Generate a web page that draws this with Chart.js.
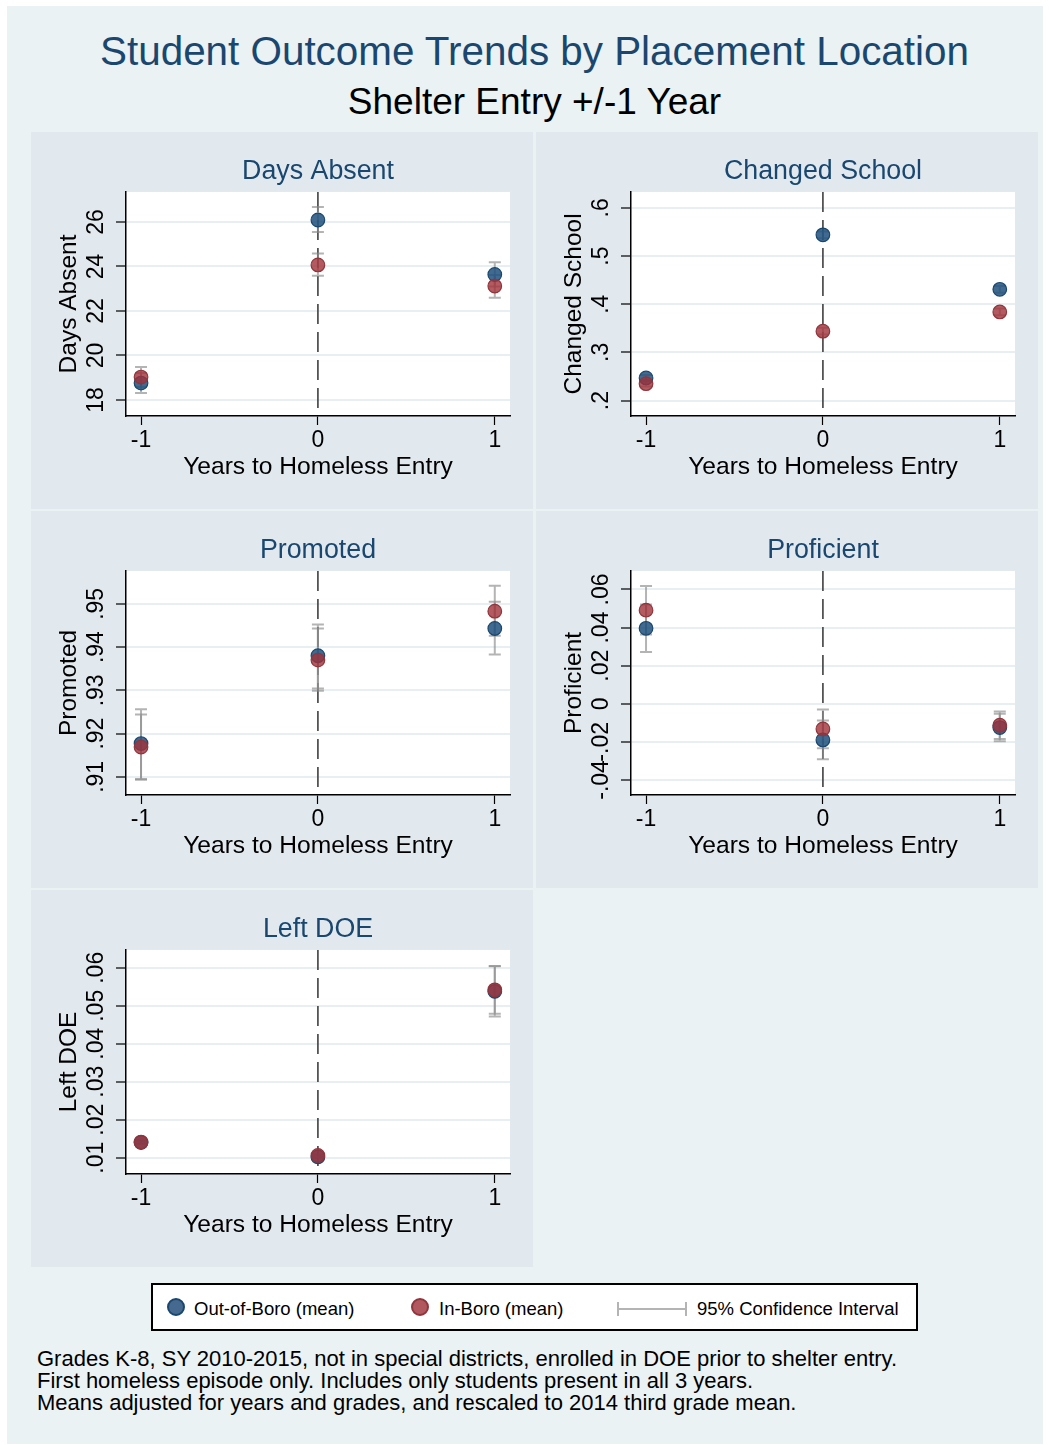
<!DOCTYPE html>
<html>
<head>
<meta charset="utf-8">
<title>Student Outcome Trends by Placement Location</title>
<script src="https://cdn.jsdelivr.net/npm/chart.js@4.4.0/dist/chart.umd.min.js"></script>
<style>
  body { margin: 0; width: 1049px; height: 1445px; background: #fff; position: relative; overflow: hidden;
         font-family: "Liberation Sans", Arial, Helvetica, sans-serif; }
  #bg { position: absolute; left: 7px; top: 6px; width: 1036px; height: 1438px; background: #eaf2f3; }
  .txt { position: absolute; white-space: nowrap; line-height: 1; }
  canvas.panel { position: absolute; background: #e1e9ef; }
  #legend { position: absolute; left: 151px; top: 1283px; width: 763px; height: 44px; background: #fff; border: 2px solid #000; }
  .dot { position: absolute; width: 14px; height: 14px; border-radius: 50%; border: 2px solid; }
  #footnote { position: absolute; left: 37px; top: 1348px; font-size: 22px; line-height: 22px; color: #000; white-space: nowrap; }
</style>
</head>
<body>
<div id="bg"></div>
<div class="txt" style="left:10px; width:1049px; text-align:center; top:30.5px; font-size:40.4px; color:#1a476f;">Student Outcome Trends by Placement Location</div>
<div class="txt" style="left:10px; width:1049px; text-align:center; top:83px; font-size:37px; color:#000;">Shelter Entry +/-1 Year</div>

<canvas id="c1" class="panel" width="502" height="377" style="left:31px; top:132px;"></canvas>
<canvas id="c2" class="panel" width="502" height="377" style="left:536px; top:132px;"></canvas>
<canvas id="c3" class="panel" width="502" height="377" style="left:31px; top:511px;"></canvas>
<canvas id="c4" class="panel" width="502" height="377" style="left:536px; top:511px;"></canvas>
<canvas id="c5" class="panel" width="502" height="377" style="left:31px; top:890px;"></canvas>

<div id="legend">
  <div class="dot" style="left:14px; top:13px; background:#46698f; border-color:#1a476f;"></div>
  <div class="txt" style="left:41px; top:15px; font-size:18.5px;">Out-of-Boro (mean)</div>
  <div class="dot" style="left:258px; top:13px; background:#b1575e; border-color:#90353b;"></div>
  <div class="txt" style="left:286px; top:15px; font-size:18.5px;">In-Boro (mean)</div>
  <div style="position:absolute; left:464px; top:23px; width:70px; height:2px; background:#b4b4b4;"></div>
  <div style="position:absolute; left:464px; top:17px; width:2px; height:14px; background:#b4b4b4;"></div>
  <div style="position:absolute; left:532px; top:17px; width:2px; height:14px; background:#b4b4b4;"></div>
  <div class="txt" style="left:544px; top:15px; font-size:18.5px;">95% Confidence Interval</div>
</div>

<div id="footnote">Grades K-8, SY 2010-2015, not in special districts, enrolled in DOE prior to shelter entry.<br>First homeless episode only. Includes only students present in all 3 years.<br>Means adjusted for years and grades, and rescaled to 2014 third grade mean.</div>

<script>
// x categories: years relative to shelter entry
const years = [-1, 0, 1];
const yearLabels = ['-1', '0', '1'];
const entryYear = 0;

// Days Absent
const daysOut = [18.76, 26.09, 23.64];
const daysOutLo = [18.31, 25.55, 23.10];
const daysOutHi = [19.21, 26.67, 24.19];
const daysIn = [19.03, 24.07, 23.12];
const daysInLo = [18.58, 23.58, 22.60];
const daysInHi = [19.48, 24.58, 23.62];
const daysTicks = [18, 20, 22, 24, 26];
const daysTickLabels = ['18', '20', '22', '24', '26'];

// Changed School
const changedOut = [0.247, 0.544, 0.431];
const changedOutLo = [0.241, 0.537, 0.424];
const changedOutHi = [0.253, 0.551, 0.438];
const changedIn = [0.235, 0.344, 0.384];
const changedInLo = [0.229, 0.337, 0.377];
const changedInHi = [0.241, 0.351, 0.391];
const changedTicks = [0.2, 0.3, 0.4, 0.5, 0.6];
const changedTickLabels = ['.2', '.3', '.4', '.5', '.6'];

// Promoted
const promotedOut = [0.9177, 0.9380, 0.9443];
const promotedOutLo = [0.9095, 0.9304, 0.9383];
const promotedOutHi = [0.9256, 0.9452, 0.9505];
const promotedIn = [0.9169, 0.9370, 0.9483];
const promotedInLo = [0.9093, 0.9299, 0.9426];
const promotedInHi = [0.9244, 0.9443, 0.9542];
const promotedTicks = [0.91, 0.92, 0.93, 0.94, 0.95];
const promotedTickLabels = ['.91', '.92', '.93', '.94', '.95'];

// Proficient
const proficientOut = [0.0396, -0.0190, -0.0125];
const proficientOutLo = [0.0271, -0.0292, -0.0197];
const proficientOutHi = [0.0521, -0.0088, -0.0053];
const proficientIn = [0.0491, -0.0132, -0.0113];
const proficientInLo = [0.0364, -0.0234, -0.0185];
const proficientInHi = [0.0618, -0.0030, -0.0041];
const proficientTicks = [-0.04, -0.02, 0, 0.02, 0.04, 0.06];
const proficientTickLabels = ['-.04', '-.02', '0', '.02', '.04', '.06'];

// Left DOE
const leftOut = [0.0140, 0.0102, 0.0538];
const leftOutLo = [0.0136, 0.0099, 0.0472];
const leftOutHi = [0.0144, 0.0105, 0.0604];
const leftIn = [0.0141, 0.0106, 0.0542];
const leftInLo = [0.0137, 0.0103, 0.0479];
const leftInHi = [0.0145, 0.0109, 0.0605];
const leftTicks = [0.01, 0.02, 0.03, 0.04, 0.05, 0.06];
const leftTickLabels = ['.01', '.02', '.03', '.04', '.05', '.06'];

const panels = [
  { id: 'c1', title: 'Days Absent', out: daysOut, outLo: daysOutLo, outHi: daysOutHi,
    inb: daysIn, inLo: daysInLo, inHi: daysInHi, min: 17.28, max: 27.35, ticks: daysTicks, labels: daysTickLabels },
  { id: 'c2', title: 'Changed School', out: changedOut, outLo: changedOutLo, outHi: changedOutHi,
    inb: changedIn, inLo: changedInLo, inHi: changedInHi, min: 0.168, max: 0.633, ticks: changedTicks, labels: changedTickLabels },
  { id: 'c3', title: 'Promoted', out: promotedOut, outLo: promotedOutLo, outHi: promotedOutHi,
    inb: promotedIn, inLo: promotedInLo, inHi: promotedInHi, min: 0.9058, max: 0.9576, ticks: promotedTicks, labels: promotedTickLabels },
  { id: 'c4', title: 'Proficient', out: proficientOut, outLo: proficientOutLo, outHi: proficientOutHi,
    inb: proficientIn, inLo: proficientInLo, inHi: proficientInHi, min: -0.0479, max: 0.0697, ticks: proficientTicks, labels: proficientTickLabels },
  { id: 'c5', title: 'Left DOE', out: leftOut, outLo: leftOutLo, outHi: leftOutHi,
    inb: leftIn, inLo: leftInLo, inHi: leftInHi, min: 0.0057, max: 0.0647, ticks: leftTicks, labels: leftTickLabels }
];

const FONT = '"Liberation Sans", Arial, Helvetica, sans-serif';
Chart.defaults.font.family = FONT;

// tick labels are rotated, so centre them by hand on the label strip
const measure = document.createElement('canvas').getContext('2d');
measure.font = '23px ' + FONT;
function yTickPad(labels) {
  const widest = Math.max(...labels.map(s => measure.measureText(s).width));
  return 19 - widest / 2;
}

// white plot region, dashed line at shelter entry, and the 95% CI caps
function decor(p) {
  return {
    id: 'decor',
    beforeDraw(chart) {
      const a = chart.chartArea, ctx = chart.ctx;
      ctx.save();
      ctx.fillStyle = '#fff';
      ctx.fillRect(a.left, a.top, a.right - a.left, a.bottom - a.top);
      ctx.restore();
    },
    beforeDatasetsDraw(chart) {
      const { ctx, chartArea: a, scales: { x, y } } = chart;
      ctx.save();
      const x0 = x.getPixelForValue(entryYear);
      ctx.strokeStyle = '#404040';
      ctx.lineWidth = 1.6;
      ctx.setLineDash([20, 8]);
      ctx.beginPath();
      ctx.moveTo(x0, a.top);
      ctx.lineTo(x0, a.bottom);
      ctx.stroke();
      ctx.setLineDash([]);

      ctx.strokeStyle = 'rgba(140,140,140,0.65)';
      ctx.lineWidth = 2;
      [[p.outLo, p.outHi], [p.inLo, p.inHi]].forEach(([lo, hi]) => {
        years.forEach((yr, i) => {
          const px = x.getPixelForValue(yr);
          const y1 = y.getPixelForValue(lo[i]);
          const y2 = y.getPixelForValue(hi[i]);
          ctx.beginPath();
          ctx.moveTo(px, y1); ctx.lineTo(px, y2);
          ctx.moveTo(px - 6, y1); ctx.lineTo(px + 6, y1);
          ctx.moveTo(px - 6, y2); ctx.lineTo(px + 6, y2);
          ctx.stroke();
        });
      });
      ctx.restore();
    }
  };
}

panels.forEach(p => {
  new Chart(document.getElementById(p.id), {
    type: 'scatter',
    data: {
      datasets: [
        {
          label: 'Out-of-Boro (mean)',
          data: years.map((yr, i) => ({ x: yr, y: p.out[i] })),
          backgroundColor: 'rgba(30,80,125,0.85)',
          borderColor: '#1a476f',
          borderWidth: 1.2,
          pointRadius: 6.8,
          order: 1
        },
        {
          label: 'In-Boro (mean)',
          data: years.map((yr, i) => ({ x: yr, y: p.inb[i] })),
          backgroundColor: 'rgba(160,50,58,0.8)',
          borderColor: '#90353b',
          borderWidth: 1.2,
          pointRadius: 6.8,
          order: 0
        }
      ]
    },
    options: {
      responsive: false,
      animation: false,
      layout: { padding: { left: 0, right: 23, top: 0, bottom: 0 } },
      plugins: {
        legend: { display: false },
        tooltip: { enabled: false },
        title: {
          display: true,
          text: p.title,
          color: '#1a476f',
          fullSize: false,
          font: { size: 26.8, weight: 'normal' },
          padding: { top: 23.8, bottom: 4.0 }
        }
      },
      scales: {
        x: {
          type: 'linear',
          min: -1.085,
          max: 1.086,
          afterBuildTicks: s => { s.ticks = years.map(v => ({ value: v })); },
          afterFit: s => { s.height = 93; },
          grid: { drawOnChartArea: false, tickLength: 9, tickColor: '#000', tickWidth: 1.2 },
          border: { color: '#000', width: 1.5 },
          ticks: {
            color: '#000', font: { size: 23 }, padding: 2.2, autoSkip: false, maxRotation: 0,
            callback: (v, i) => yearLabels[i]
          },
          title: {
            display: true, text: 'Years to Homeless Entry', color: '#000',
            font: { size: 24.6 }, padding: { top: 0, bottom: 27 }
          }
        },
        y: {
          min: p.min,
          max: p.max,
          afterBuildTicks: s => { s.ticks = p.ticks.map(v => ({ value: v })); },
          afterFit: s => { s.width = 95; },
          grid: { color: '#e8eff2', lineWidth: 2, tickLength: 10, tickColor: '#000', tickWidth: 1.2 },
          border: { color: '#000', width: 1.5 },
          ticks: {
            color: '#000', font: { size: 23 }, minRotation: 90, maxRotation: 90, crossAlign: 'center',
            padding: yTickPad(p.labels), autoSkip: false,
            callback: (v, i) => p.labels[i]
          },
          title: {
            display: true, text: p.title, color: '#000',
            font: { size: 24.5 }, padding: { top: 23.3, bottom: 0 }
          }
        }
      }
    },
    plugins: [decor(p)]
  });
});
</script>
</body>
</html>
